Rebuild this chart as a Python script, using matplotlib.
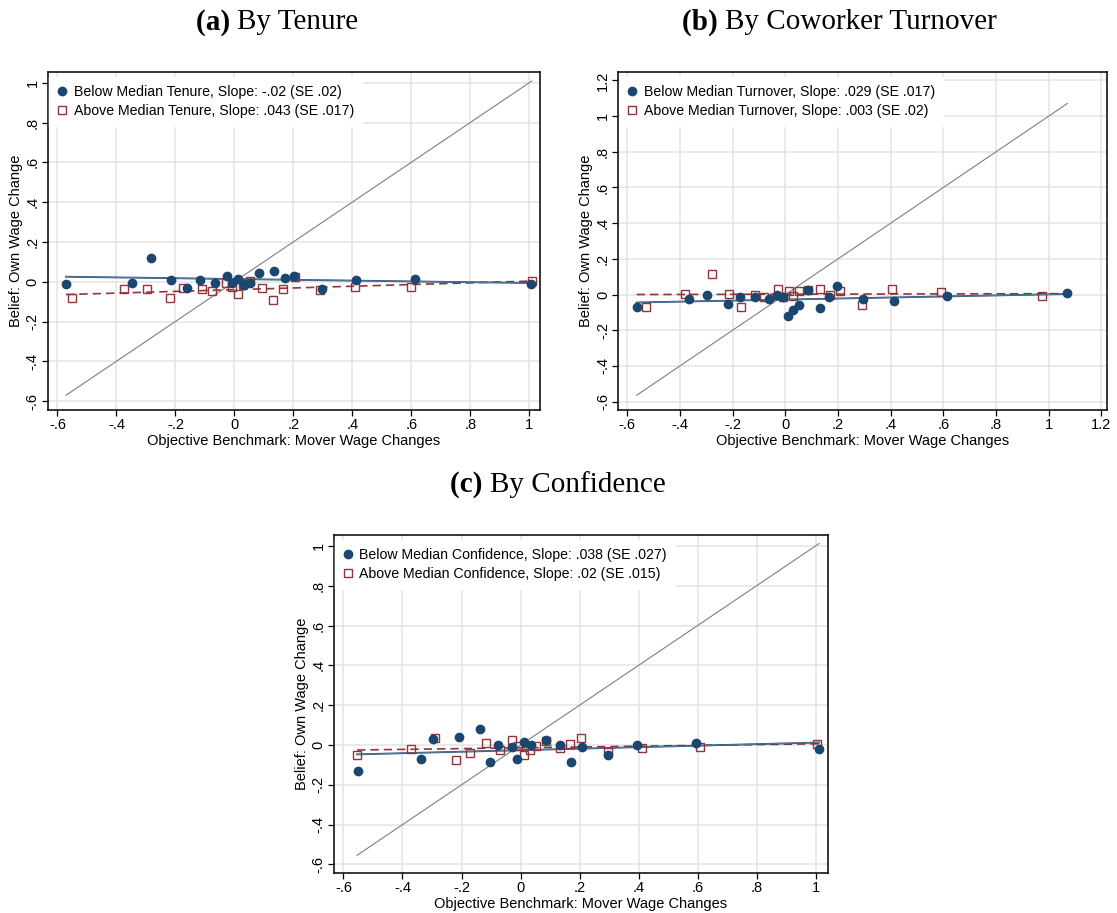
"""Binned scatter of beliefs about own wage change against mover wage changes,
split by tenure, coworker turnover and confidence (three panels)."""
import matplotlib
matplotlib.use("Agg")
import matplotlib.pyplot as plt
from matplotlib.lines import Line2D
import numpy as np

NAVY = "#1a476f"
MAROON = "#90353b"
GRID = "#e4e4e4"

# ---- panel (a): by tenure ----
tenure_below_x = [-0.571, -0.348, -0.282, -0.216, -0.162, -0.118, -0.067, -0.026, -0.008, 0.014,
                  0.032, 0.052, 0.085, 0.133, 0.173, 0.204, 0.299, 0.412, 0.612, 1.005]
tenure_below_y = [-0.013, -0.007, 0.121, 0.010, -0.034, 0.008, -0.007, 0.030, -0.005, 0.012,
                  -0.017, -0.008, 0.045, 0.052, 0.020, 0.028, -0.039, 0.007, 0.015, -0.012]
tenure_above_x = [-0.551, -0.375, -0.296, -0.217, -0.175, -0.110, -0.076, -0.029, -0.009, 0.011,
                  0.029, 0.054, 0.093, 0.132, 0.165, 0.206, 0.291, 0.410, 0.598, 1.009]
tenure_above_y = [-0.080, -0.037, -0.035, -0.080, -0.034, -0.039, -0.047, -0.007, -0.025, -0.060,
                  -0.013, 0.005, -0.030, -0.092, -0.037, 0.025, -0.042, -0.025, -0.025, 0.003]

# ---- panel (b): by coworker turnover ----
turnover_below_x = [-0.564, -0.364, -0.297, -0.218, -0.171, -0.116, -0.062, -0.031, -0.009, 0.011,
                    0.030, 0.053, 0.088, 0.132, 0.167, 0.197, 0.295, 0.414, 0.612, 1.071]
turnover_below_y = [-0.069, -0.026, 0.000, -0.054, -0.013, -0.011, -0.024, -0.004, -0.015, -0.121,
                    -0.086, -0.058, 0.026, -0.073, -0.015, 0.049, -0.026, -0.037, -0.007, 0.006]
turnover_above_x = [-0.530, -0.380, -0.279, -0.213, -0.169, -0.116, -0.081, -0.026, -0.008, 0.013,
                    0.030, 0.053, 0.088, 0.132, 0.170, 0.208, 0.293, 0.406, 0.592, 0.973]
turnover_above_y = [-0.069, 0.002, 0.114, 0.002, -0.071, -0.004, -0.015, 0.032, -0.013, 0.022,
                    -0.006, 0.019, 0.028, 0.030, -0.002, 0.019, -0.056, 0.030, 0.015, -0.009]

# ---- panel (c): by confidence ----
conf_below_x = [-0.551, -0.336, -0.297, -0.209, -0.138, -0.104, -0.075, -0.030, -0.013, 0.011,
                0.034, 0.087, 0.134, 0.171, 0.207, 0.295, 0.396, 0.595, 1.012]
conf_below_y = [-0.131, -0.072, 0.030, 0.040, 0.082, -0.084, -0.002, -0.012, -0.069, 0.013,
                -0.002, 0.025, -0.002, -0.087, -0.012, -0.050, -0.002, 0.012, -0.020]
conf_above_x = [-0.554, -0.370, -0.289, -0.220, -0.172, -0.118, -0.069, -0.028, -0.009, 0.013,
                0.033, 0.054, 0.088, 0.133, 0.168, 0.204, 0.295, 0.412, 0.609, 1.005]
conf_above_y = [-0.050, -0.019, 0.033, -0.077, -0.042, 0.010, -0.025, 0.023, -0.007, -0.050,
                -0.024, -0.004, 0.020, -0.015, 0.007, 0.033, -0.034, -0.017, -0.009, 0.005]

# fitted lines (intercept, slope) per panel: below, above
fit_intercepts = [(0.0136, -0.040), (-0.028, 0.002), (-0.026, -0.014)]
fit_slopes = [(-0.02, 0.043), (0.029, 0.003), (0.038, 0.02)]

titles = [("(a)", "By Tenure"), ("(b)", "By Coworker Turnover"), ("(c)", "By Confidence")]
legend_labels = [
    ("Below Median Tenure, Slope: -.02 (SE .02)", "Above Median Tenure, Slope: .043 (SE .017)"),
    ("Below Median Turnover, Slope: .029 (SE .017)", "Above Median Turnover, Slope: .003 (SE .02)"),
    ("Below Median Confidence, Slope: .038 (SE .027)", "Above Median Confidence, Slope: .02 (SE .015)"),
]
x_ticks = [np.arange(-0.6, 1.01, 0.2), np.arange(-0.6, 1.21, 0.2), np.arange(-0.6, 1.01, 0.2)]
y_ticks = [np.arange(-0.6, 1.01, 0.2), np.arange(-0.6, 1.21, 0.2), np.arange(-0.6, 1.01, 0.2)]
x_limits = [(-0.632, 1.037), (-0.634, 1.221), (-0.633, 1.042)]
y_limits = [(-0.645, 1.054), (-0.647, 1.247), (-0.643, 1.055)]


def stata_label(v):
    v = round(float(v), 1)
    if abs(v - round(v)) < 1e-9:
        return str(int(round(v)))
    s = f"{v:.1f}"
    return s.replace("0.", ".", 1) if s.lstrip("-").startswith("0.") else s


def centered_title(fig, xc, yc, bold, rest, size=21):
    fam = "Liberation Serif"
    r = fig.canvas.get_renderer()
    t1 = fig.text(0, yc, bold + " ", fontsize=size, family=fam, weight="bold", va="center")
    t2 = fig.text(0, yc, rest, fontsize=size, family=fam, va="center")
    w1 = t1.get_window_extent(r).width / fig.bbox.width
    w2 = t2.get_window_extent(r).width / fig.bbox.width
    x0 = xc - (w1 + w2) / 2
    t1.set_x(x0)
    t2.set_x(x0 + w1)


def draw_panel(ax, i, bx, by, rx, ry):
    allx = np.array(bx + rx)
    lo, hi = allx.min(), allx.max()
    xs = np.array([lo, hi])
    ax.plot(xs, xs, color="#7f7f7f", lw=0.8, zorder=2)
    ab, ar = fit_intercepts[i]
    sb, sr = fit_slopes[i]
    ax.plot(xs, ar + sr * xs, color=MAROON, lw=1.2, ls=(0, (5, 3)), zorder=3)
    ax.plot(xs, ab + sb * xs, color=NAVY, lw=1.3, zorder=3)
    ax.plot(xs, ab + sb * xs, color="#7d9bbb", lw=0.6, alpha=0.7, zorder=3)
    ax.plot(rx, ry, ls="none", marker="s", ms=5.2, mfc="none", mec=MAROON, mew=1.0, zorder=4)
    ax.plot(bx, by, ls="none", marker="o", ms=6, color=NAVY, zorder=5)

    ax.set_xlim(*x_limits[i])
    ax.set_ylim(*y_limits[i])
    ax.set_xticks(x_ticks[i])
    ax.set_xticklabels([stata_label(v) for v in x_ticks[i]], fontsize=10.5)
    ax.set_yticks(y_ticks[i])
    ax.set_yticklabels([stata_label(v) for v in y_ticks[i]], fontsize=10.5, rotation=90, va="center")
    ax.tick_params(direction="out", length=4, width=0.9, pad=2)
    ax.grid(True, color=GRID, lw=1.1, zorder=0)
    ax.set_axisbelow(True)
    for sp in ax.spines.values():
        sp.set_linewidth(1.1)
    ax.set_xlabel("Objective Benchmark: Mover Wage Changes", fontsize=10.5, labelpad=1)
    ax.set_ylabel("Belief: Own Wage Change", fontsize=10.5, labelpad=2)

    handles = [
        Line2D([], [], ls="none", marker="o", ms=6, color=NAVY),
        Line2D([], [], ls="none", marker="s", ms=5.2, mfc="none", mec=MAROON, mew=1.0),
    ]
    leg = ax.legend(handles, legend_labels[i], loc="upper left", bbox_to_anchor=(0, 0.99),
                    fontsize=10.2, frameon=True, fancybox=False, framealpha=1,
                    facecolor="white", edgecolor="white", borderaxespad=0.1, borderpad=0.55,
                    handlelength=0.7, handletextpad=0.45, labelspacing=0.4)
    leg.set_zorder(6)


plt.rcParams["font.family"] = ["Liberation Sans", "DejaVu Sans"]
fig = plt.figure(figsize=(11.17, 9.13), dpi=100)

ax_a = fig.add_axes([0.0430, 0.5509, 0.4405, 0.3702])
ax_b = fig.add_axes([0.5535, 0.5509, 0.4375, 0.3702])
ax_c = fig.add_axes([0.2988, 0.0438, 0.4424, 0.3702])

draw_panel(ax_a, 0, tenure_below_x, tenure_below_y, tenure_above_x, tenure_above_y)
draw_panel(ax_b, 1, turnover_below_x, turnover_below_y, turnover_above_x, turnover_above_y)
draw_panel(ax_c, 2, conf_below_x, conf_below_y, conf_above_x, conf_above_y)

fig.canvas.draw()
centered_title(fig, 277 / 1117, 1 - 22 / 913, *titles[0])
centered_title(fig, 839 / 1117, 1 - 22 / 913, *titles[1])
centered_title(fig, 558 / 1117, 1 - 485 / 913, *titles[2])

fig.savefig("out.png", dpi=100)
